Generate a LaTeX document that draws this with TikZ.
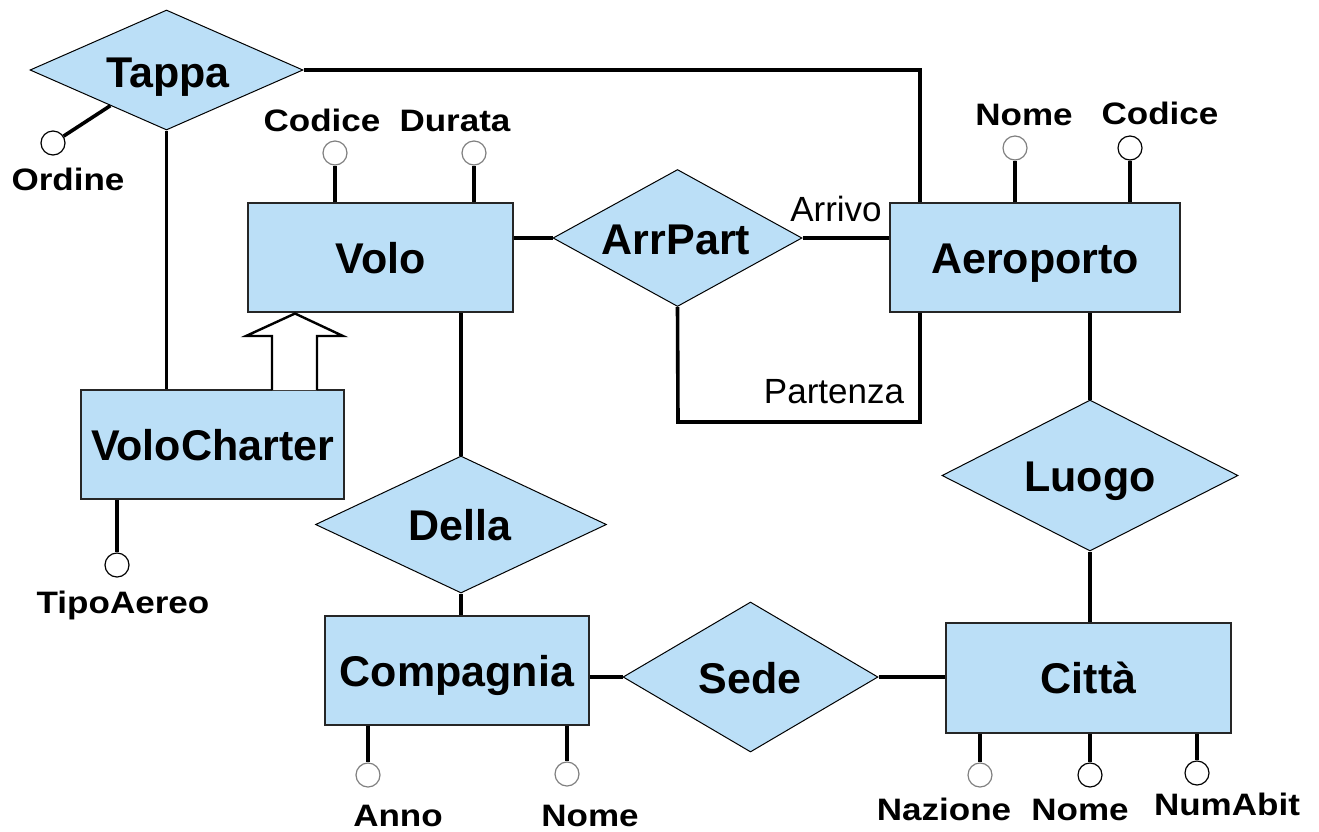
\documentclass[tikz,border=0pt]{standalone}
\usepackage{fontspec}
\setmainfont{Liberation Sans}
\newfontfamily\attrfont[FakeStretch=1.13]{Liberation Sans}
\usetikzlibrary{shapes.geometric,calc}
\definecolor{erblue}{HTML}{BBDFF7}
\definecolor{circgray}{gray}{0.5}
\tikzset{
  ent/.style={rectangle, draw=black!85, line width=1.5pt, fill=erblue, inner sep=0pt,
    font=\fontsize{43}{43}\selectfont\bfseries, text height=31pt, text depth=0pt},
  rel/.style={diamond, draw=black, line width=1pt, fill=erblue, inner sep=0pt},
  rlbl/.style={anchor=base, inner sep=0pt, font=\fontsize{43}{43}\selectfont\bfseries},
  alab/.style={anchor=base, inner sep=0pt, font=\attrfont\bfseries\fontsize{31}{31}\selectfont},
  rolelbl/.style={anchor=base, inner sep=0pt, font=\fontsize{35}{35}\selectfont},
  attrc/.style={circle, draw=black, fill=white, line width=1.2pt, minimum size=24pt, inner sep=0pt},
  attrg/.style={attrc, draw=circgray},
  conn/.style={line width=3.6pt, draw=black},
}
\begin{document}
\begin{tikzpicture}[x=1pt,y=-1pt]
\useasboundingbox (0,0) rectangle (1319,831);

% entities
\node[ent, minimum width=265pt, minimum height=109pt] (volo) at (380.5,257.5) {Volo};
\node[ent, minimum width=290pt, minimum height=109pt] (aero) at (1035,257.5) {Aeroporto};
\node[ent, minimum width=263pt, minimum height=109pt] (vc) at (212.5,444.5) {VoloCharter};
\node[ent, minimum width=264pt, minimum height=109pt] (comp) at (457,670.5) {Compagnia};
\node[ent, minimum width=285pt, minimum height=110pt] (citta) at (1088.5,678) {Città};

% relationships
\node[rel, minimum width=273pt, minimum height=120pt] (tappa) at (166.5,70) {};
\node[rel, minimum width=249pt, minimum height=137pt] (arr) at (677.5,238) {};
\node[rel, minimum width=291pt, minimum height=137pt] (della) at (461,524.5) {};
\node[rel, minimum width=255pt, minimum height=150pt] (sede) at (750.5,677) {};
\node[rel, minimum width=296pt, minimum height=151pt] (luogo) at (1090,475.5) {};

\node[rlbl] (tappaT) at (168,87) {Tappa};
\node[rlbl] (arrT) at (676,254) {ArrPart};
\node[rlbl] (dellaT) at (460,540) {Della};
\node[rlbl] (sedeT) at (750,693) {Sede};
\node[rlbl] (luogoT) at (1090,491) {Luogo};

% connectors
\coordinate (tk) at (920,70);
\draw[conn] (tappa.east) -- (tk) -- (tk |- aero.north);
\draw[conn] (tappa.south) -- (tappa.south |- vc.north);
\draw[conn] (volo.east |- arr.west) -- (arr.west);
\draw[conn] (arr.east) -- (arr.east -| aero.west);
\coordinate (p1) at (678,422);
\coordinate (p2) at (920,422);
\draw[conn] (arr.south) -- (p1) -- (p2) -- (p2 |- aero.south);
\draw[conn] (della.north |- volo.south) -- (della.north);
\draw[conn] (della.south) -- (della.south |- comp.north);
\draw[conn] (comp.east |- sede.west) -- (sede.west);
\draw[conn] (sede.east) -- (sede.east -| citta.west);
\draw[conn] (luogo.north |- aero.south) -- (luogo.north);
\draw[conn] (luogo.south) -- (luogo.south |- citta.north);

\node[rolelbl] (arrivo) at (836,221) {Arrivo};
\node[rolelbl] (partenza) at (834,403) {Partenza};

% generalization arrow
\draw[line width=2.4pt, fill=white, line join=miter]
  (272,390) -- (272,336) -- (246,336) -- (295,313.5) -- (343,336) -- (317,336) -- (317,390);

% attributes
\node[attrc] (ordC) at (53,143) {};
\draw[conn] ($(tappa.west)!0.59!(tappa.south)$) -- (ordC);
\node[alab] (ordL) at (68,190) {Ordine};

\node[attrg] (vcodC) at (335,153) {};
\draw[conn] (vcodC |- volo.north) -- (vcodC);
\node[alab] (vcodL) at (322,131) {Codice};
\node[attrg] (vdurC) at (474,153) {};
\draw[conn] (vdurC |- volo.north) -- (vdurC);
\node[alab] (vdurL) at (455,131) {Durata};

\node[attrg] (anomC) at (1015,148) {};
\draw[conn] (anomC |- aero.north) -- (anomC);
\node[alab] (anomL) at (1024,125) {Nome};
\node[attrc] (acodC) at (1130,148) {};
\draw[conn] (acodC |- aero.north) -- (acodC);
\node[alab] (acodL) at (1160,124) {Codice};

\node[attrc] (tipoC) at (117,565) {};
\draw[conn] (tipoC |- vc.south) -- (tipoC);
\node[alab] (tipoL) at (123,613) {TipoAereo};

\node[attrg] (annoC) at (368,775) {};
\draw[conn] (annoC |- comp.south) -- (annoC);
\node[alab] (annoL) at (398,826) {Anno};
\node[attrg] (cnomC) at (567,774) {};
\draw[conn] (cnomC |- comp.south) -- (cnomC);
\node[alab] (cnomL) at (590,826) {Nome};

\node[attrg] (nazC) at (980,775) {};
\draw[conn] (nazC |- citta.south) -- (nazC);
\node[alab] (nazL) at (944,820) {Nazione};
\node[attrc] (tnomC) at (1090,775) {};
\draw[conn] (tnomC |- citta.south) -- (tnomC);
\node[alab] (tnomL) at (1080,820) {Nome};
\node[attrc] (numC) at (1197,773) {};
\draw[conn] (numC |- citta.south) -- (numC);
\node[alab] (numL) at (1227,815) {NumAbit};
\end{tikzpicture}
\end{document}
